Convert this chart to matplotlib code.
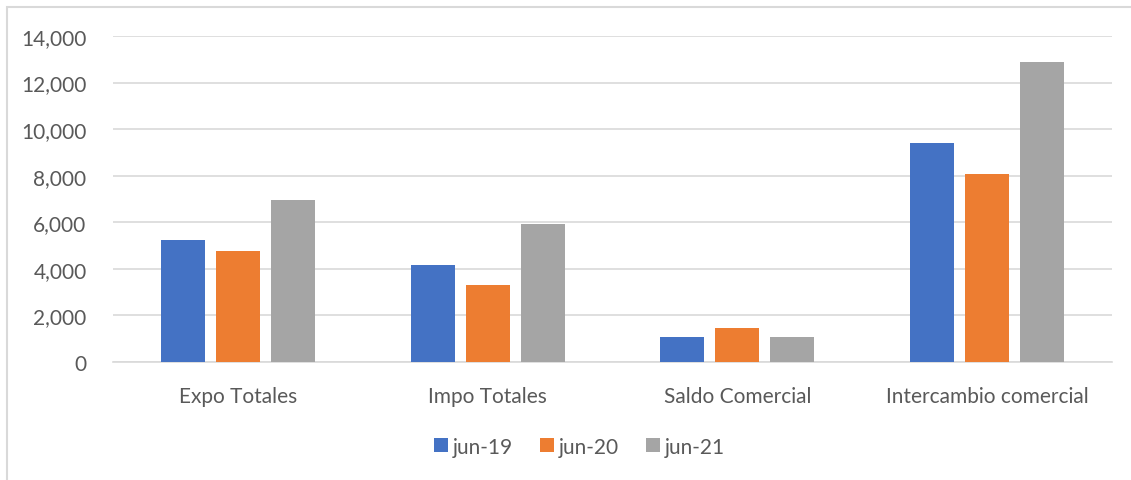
import numpy as np
import matplotlib.pyplot as plt
from matplotlib.patches import Rectangle
from matplotlib.ticker import FuncFormatter

categories = ['Expo Totales', 'Impo Totales', 'Saldo Comercial', 'Intercambio comercial']
series = ['jun-19', 'jun-20', 'jun-21']
jun19 = [5220, 4160, 1060, 9400]
jun20 = [4770, 3290, 1480, 8070]
jun21 = [6970, 5910, 1060, 12870]
colors = ['#4472C4', '#ED7D31', '#A5A5A5']

plt.rcParams['font.family'] = ['Lato', 'DejaVu Sans']

fig = plt.figure(figsize=(11.31, 4.81), dpi=100)
ax = fig.add_axes([113/1131, 1-363/481, (1112-113)/1131, (363-37)/481])

x = np.arange(len(categories))
w = 0.176
for i, (vals, lab) in enumerate(zip([jun19, jun20, jun21], series)):
    ax.bar(x + (i-1)*0.22, vals, w, color=colors[i], label=lab, zorder=3)

ax.set_xlim(-0.5, 3.5)
ax.set_ylim(0, 14000)
ax.set_yticks(range(0, 14001, 2000))
ax.yaxis.set_major_formatter(FuncFormatter(lambda v, p: f'{int(v):,}'))
ax.set_xticks(x)
ax.set_xticklabels(categories)
ax.grid(axis='y', color='#D9D9D9', linewidth=1.2, zorder=0)
for s in ['top', 'right', 'left']:
    ax.spines[s].set_visible(False)
ax.spines['bottom'].set_color('#D9D9D9')
ax.spines['bottom'].set_linewidth(1.2)
ax.tick_params(axis='both', length=0, labelsize=15, colors='#595959')
ax.tick_params(axis='y', pad=19)
ax.tick_params(axis='x', pad=17)

ax.legend(loc='center', bbox_to_anchor=(0.467, -0.26), ncol=3, frameon=False,
          fontsize=15, labelcolor='#595959', handlelength=0.65, handleheight=0.65,
          handletextpad=0.25, columnspacing=1.3)

fig.patches.append(Rectangle((7/1131, -0.01), 1.0, 1-8/481+0.01, transform=fig.transFigure,
                             fill=False, edgecolor='#D9D9D9', linewidth=1.5))

fig.savefig('out.png', dpi=100)
